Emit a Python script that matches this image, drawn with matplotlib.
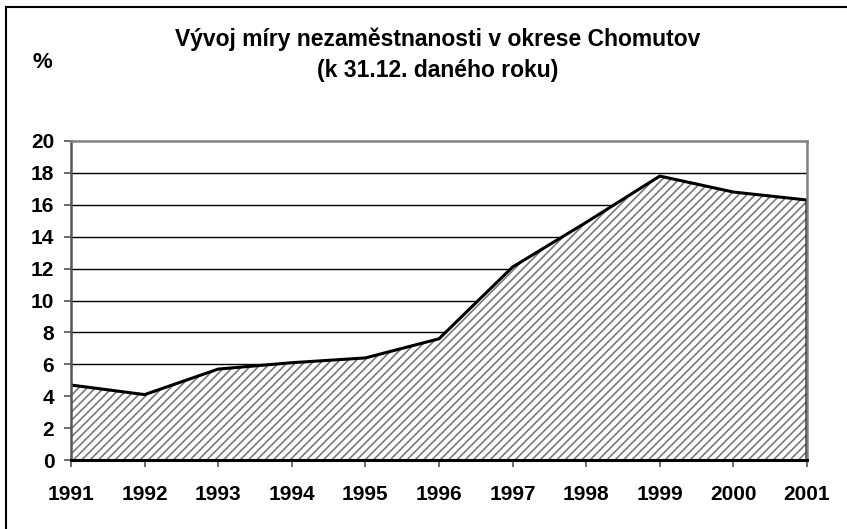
import matplotlib
matplotlib.use("Agg")
import matplotlib.pyplot as plt
from matplotlib.lines import Line2D

plt.rcParams['font.family'] = ['Liberation Sans', 'DejaVu Sans']
plt.rcParams['hatch.linewidth'] = 1.2

years = [1991, 1992, 1993, 1994, 1995, 1996, 1997, 1998, 1999, 2000, 2001]
rate = [4.7, 4.1, 5.7, 6.1, 6.4, 7.6, 12.1, 14.9, 17.8, 16.8, 16.3]
yticks = [0, 2, 4, 6, 8, 10, 12, 14, 16, 18, 20]
title1 = "Vývoj míry nezaměstnanosti v okrese Chomutov"
title2 = "(k 31.12. daného roku)"
ylabel = "%"

W, H = 847, 529
fig = plt.figure(figsize=(W / 100, H / 100), dpi=100)
ax = fig.add_axes([71 / W, (H - 460) / H, (807 - 71) / W, (460 - 141) / H])

ax.set_xlim(years[0], years[-1])
ax.set_ylim(0, 20)

# grid
for v in yticks[1:-1]:
    ax.axhline(v, color='black', lw=1.0, zorder=1)

ax.fill_between(years, rate, 0, facecolor='white', edgecolor='#7a7a7a',
                hatch='////', linewidth=0, zorder=2)
ax.plot(years + [years[-1]], rate + [0], color='black', lw=2.2, zorder=3,
        solid_joinstyle='miter')

for s in ['top', 'right']:
    ax.spines[s].set_color('#808080')
    ax.spines[s].set_linewidth(1.8)
ax.spines['left'].set_color('#555555')
ax.spines['left'].set_linewidth(1.8)
ax.spines['bottom'].set_color('black')
ax.spines['bottom'].set_linewidth(2.2)
for s in ax.spines.values():
    s.set_zorder(4)

ax.set_yticks(yticks)
ax.set_xticks(years)
ax.set_xticklabels([str(y) for y in years])
ax.tick_params(axis='y', direction='out', length=5, width=1.2, color='#555555',
               labelsize=15, pad=7)
ax.tick_params(axis='x', direction='out', length=5, width=1.2, color='#555555',
               labelsize=15, pad=13)
for lab in ax.get_xticklabels() + ax.get_yticklabels():
    lab.set_fontweight('bold')

fig.text(438 / W, 1 - 39 / H, title1, ha='center', va='center',
         fontsize=16.5, fontweight='bold')
fig.text(438 / W, 1 - 71 / H, title2, ha='center', va='center',
         fontsize=16.5, fontweight='bold')
fig.text(42 / W, 1 - 62 / H, ylabel, ha='center', va='center',
         fontsize=16, fontweight='bold')

# outer frame (left and top edges)
fig.add_artist(Line2D([6 / W, 6 / W], [0, 1 - 7 / H], color='black', lw=1.5,
                      transform=fig.transFigure))
fig.add_artist(Line2D([6 / W, 1], [1 - 7 / H, 1 - 7 / H], color='black', lw=1.5,
                      transform=fig.transFigure))

fig.savefig("out.png", dpi=100)
